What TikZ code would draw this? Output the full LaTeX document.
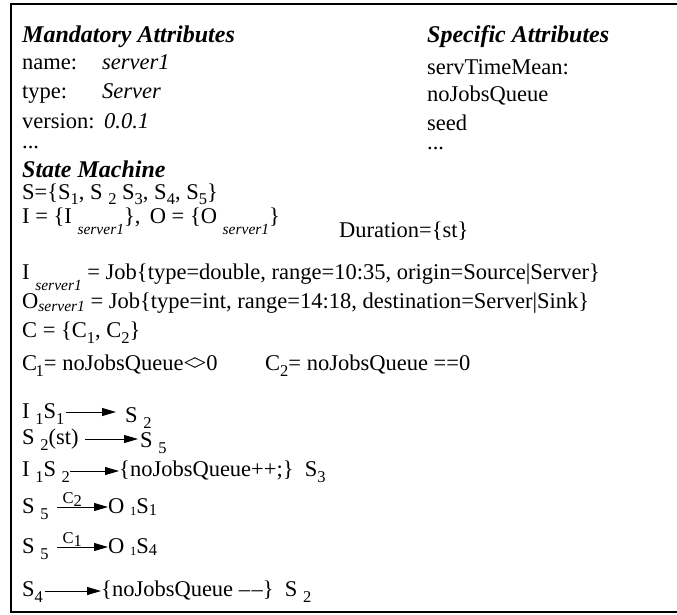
\documentclass[tikz,border=0pt]{standalone}
\usepackage{fontspec}
\setmainfont{Liberation Serif}
\usetikzlibrary{arrows.meta,calc}
\newcommand\mainsz{\fontsize{22.5}{26}\selectfont}
\newcommand\headsz{\fontsize{24}{28}\selectfont}
\newcommand\subsz{\fontsize{16.5}{17}\selectfont}
\newcommand\itsubsz{\fontsize{15.5}{16}\selectfont}
\newcommand\tinysz{\fontsize{12.5}{13}\selectfont}
% lowered subscript in text mode
\newcommand\lsub[2][6pt]{\raisebox{-#1}{\subsz #2}}
\newcommand\isub[2][11pt]{\raisebox{-#1}{\itsubsz\itshape #2}}
\newcommand\ddash{\textendash\kern1.5pt\textendash}
\newcommand\ltgt{<\kern-2.5pt>}
\tikzset{
  txt/.style={anchor=base west, inner sep=0pt, font=\mainsz},
  head/.style={txt, font=\headsz\bfseries\itshape},
  val/.style={txt, font=\mainsz\itshape},
  tri/.style={-{Triangle[length=14pt,width=8pt]}, line width=0.9pt},
  lab/.style={above=-1pt, font=\subsz, inner sep=1pt},
  frame/.style={line width=1.1pt}
}
\begin{document}
\begin{tikzpicture}[x=1pt,y=-1pt]
\useasboundingbox (0,0) rectangle (677,614);
% frame, open on the right
\draw[line width=2pt] (677,4) -- (11,4);
\draw[frame] (11,3) -- (11,612) -- (677,612);

% attributes
\node[head] (mand) at (22,42) {Mandatory Attributes};
\node[head] (spec) at (427,42) {Specific Attributes};
\node[txt] (nameK) at (22,69) {name:};
\node[val] (nameV) at (102,69) {server1};
\node[txt] (typeK) at (22,98) {type:};
\node[val] (typeV) at (102,98) {Server};
\node[txt] (verK) at (22,128) {version:};
\node[val] (verV) at (104,128) {0.0.1};
\node[txt] (dotsL) at (22,148) {...};
\node[txt] (stm) at (427,74) {servTimeMean:};
\node[txt] (njq) at (427,101) {noJobsQueue};
\node[txt] (seed) at (427,130) {seed};
\node[txt] (dotsR) at (427,149) {...};

% state machine definition
\node[head] (sm) at (22,177) {State Machine};
\node[txt] (Sset) at (22,199) {S=\{S\lsub[5pt]{1}, S \lsub[5pt]{2} S\lsub[5pt]{3}, S\lsub[5pt]{4}, S\lsub[5pt]{5}\}};
\node[txt] (IO) at (22,223) {I = \{I \isub{server1}\}, \,O = \{O \isub{server1}\}};
\node[txt] (dur) at (339,237) {Duration=\{st\}};
\node[txt] (Idef) at (22,279) {I \isub{server1} = Job\{type=double, range=10:35, origin=Source|Server\}};
\node[txt] (Odef) at (22,308) {O\isub[3pt]{server1} = Job\{type=int, range=14:18, destination=Server|Sink\}};
\node[txt] (Cset) at (22,337) {C = \{C\lsub{1}, C\lsub{2}\}};
\node[txt] (C1) at (22,370) {C\kern-1.5pt\lsub{1}= noJobsQueue\ltgt0};
\node[txt] (C2) at (265,370) {C\lsub{2}= noJobsQueue ==0};

% transitions
\node[txt] (t1a) at (22,418) {I \lsub{1}S\lsub{1}};
\node[txt] (t1b) at (125,422) {S \lsub{2}};
\coordinate (t1s) at ($(t1a.east |- 0,412)+(1,0)$);
\coordinate (t1e) at (116,412);
\draw[tri] (t1s) -- (t1e);

\node[txt] (t2a) at (22,444) {S \lsub{2}(st)};
\node[txt] (t2b) at (140,447) {S \lsub{5}};
\coordinate (t2s) at ($(t2a.east |- 0,439)+(6,0)$);
\coordinate (t2e) at (138,439);
\draw[tri] (t2s) -- (t2e);

\node[txt] (t3a) at (22,476) {I \lsub{1}S \lsub{2}};
\node[txt] (t3b) at (119,476) {\{noJobsQueue++;\} \ S\lsub{3}};
\coordinate (t3s) at (t3a.east |- 0,471);
\coordinate (t3e) at (t3b.west |- 0,471);
\draw[tri] (t3s) -- (t3e);

\node[txt] (t4a) at (22,513) {S \lsub{5}};
\node[txt] (t4b) at (108,513) {O \lsub[2pt]{\tinysz 1}S\lsub[2pt]{1}};
\coordinate (t4s) at ($(t4a.east |- 0,507)+(8,0)$);
\coordinate (t4e) at (t4b.west |- 0,507);
\draw[tri] (t4s) -- node[lab, pos=0.3] (t4l) {C\lsub[3pt]{2}} (t4e);

\node[txt] (t5a) at (22,553) {S \lsub{5}};
\node[txt] (t5b) at (108,553) {O \lsub[2pt]{\tinysz 1}S\lsub[2pt]{4}};
\coordinate (t5s) at ($(t5a.east |- 0,547)+(8,0)$);
\coordinate (t5e) at (t5b.west |- 0,547);
\draw[tri] (t5s) -- node[lab, pos=0.3] (t5l) {C\lsub[3pt]{1}} (t5e);

\node[txt] (t6a) at (22,596) {S\lsub{4}};
\node[txt] (t6b) at (101,596) {\{noJobsQueue \ddash\} \ S \lsub{2}};
\coordinate (t6s) at ($(t6a.east |- 0,591)+(2,0)$);
\coordinate (t6e) at (t6b.west |- 0,591);
\draw[tri] (t6s) -- (t6e);
\end{tikzpicture}
\end{document}
